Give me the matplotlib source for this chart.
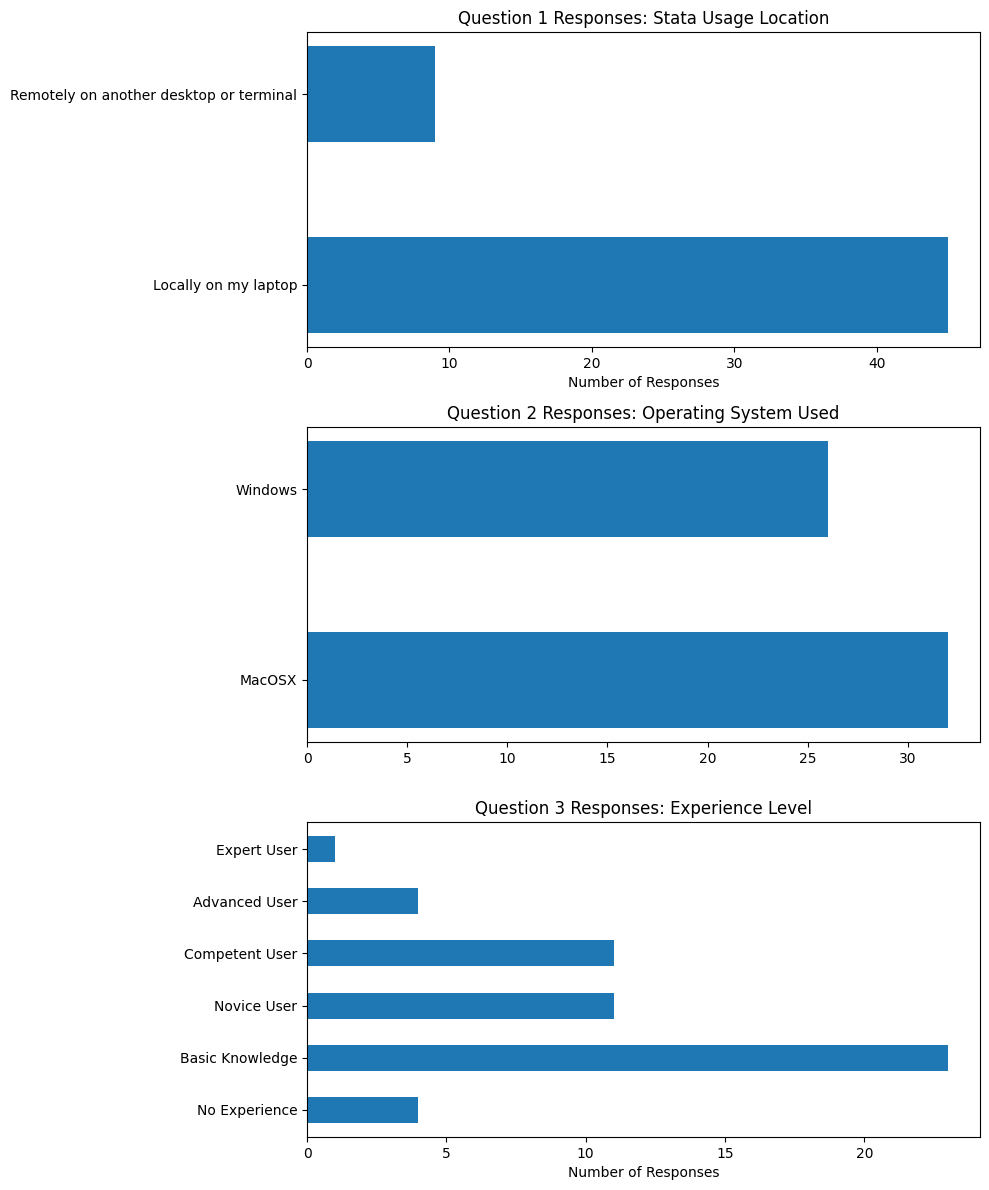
import matplotlib
matplotlib.use("Agg")
import matplotlib.pyplot as plt

q1_labels = ["Locally on my laptop", "Remotely on another desktop or terminal"]
q1_values = [45, 9]
q2_labels = ["MacOSX", "Windows"]
q2_values = [32, 26]
q3_labels = ["No Experience", "Basic Knowledge", "Novice User", "Competent User", "Advanced User", "Expert User"]
q3_values = [4, 23, 11, 11, 4, 1]

fig, axes = plt.subplots(3, 1, figsize=(9.89, 11.9), dpi=100)

specs = [
    (q1_labels, q1_values, "Question 1 Responses: Stata Usage Location", "Number of Responses"),
    (q2_labels, q2_values, "Question 2 Responses: Operating System Used", None),
    (q3_labels, q3_values, "Question 3 Responses: Experience Level", "Number of Responses"),
]
for ax, (labels, values, title, xlabel) in zip(axes, specs):
    pos = list(range(len(labels)))
    ax.barh(pos, values, height=0.5, color="#1f77b4")
    ax.set_yticks(pos)
    ax.set_yticklabels(labels)
    ax.set_title(title)
    if xlabel:
        ax.set_xlabel(xlabel)

fig.subplots_adjust(left=307/989, right=980/989, top=1-32/1190, bottom=1-1137/1190, hspace=80/315)
fig.savefig("out.png", dpi=100)
